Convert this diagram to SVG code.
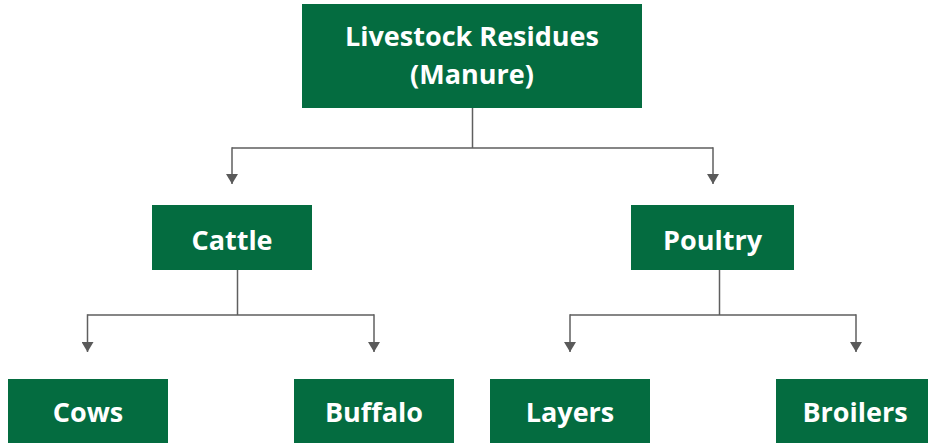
<svg xmlns="http://www.w3.org/2000/svg" width="928" height="443" viewBox="0 0 928 443">
<style>
.box{fill:#046c40}
.t{fill:#ffffff;font-family:"Open Sans","Noto Sans",sans-serif;font-weight:700;font-size:27px;text-anchor:middle}
.c{fill:none;stroke:#5f5f5f;stroke-width:1.5}
</style>
<defs>
<marker id="ah" viewBox="0 0 10 12" refX="10" refY="6" markerWidth="10" markerHeight="12" markerUnits="userSpaceOnUse" orient="auto">
<path d="M0,0 L10,6 L0,12 Z" fill="#5a5a5a"/>
</marker>
</defs>
<rect width="928" height="443" fill="#ffffff"/>
<g id="connectors">
<path class="c" d="M472.5,108 V148 M232,148 H713"/>
<path class="c" d="M232,147.25 V184" marker-end="url(#ah)"/>
<path class="c" d="M713,147.25 V184" marker-end="url(#ah)"/>
<path class="c" d="M237.5,270 V315 M87.5,315 H374"/>
<path class="c" d="M87.5,314.25 V352" marker-end="url(#ah)"/>
<path class="c" d="M374,314.25 V352" marker-end="url(#ah)"/>
<path class="c" d="M719.5,270 V315 M570,315 H856"/>
<path class="c" d="M570,314.25 V352" marker-end="url(#ah)"/>
<path class="c" d="M856,314.25 V352" marker-end="url(#ah)"/>
</g>
<g id="livestock">
<rect class="box" x="302" y="4" width="340" height="104"/>
<text class="t" x="472" y="46">Livestock Residues</text>
<text class="t" x="472" y="84">(Manure)</text>
</g>
<g id="cattle">
<rect class="box" x="152" y="205" width="160" height="65"/>
<text class="t" x="232" y="250">Cattle</text>
</g>
<g id="poultry">
<rect class="box" x="631" y="205" width="163" height="65"/>
<text class="t" x="712.5" y="250">Poultry</text>
</g>
<g id="cows">
<rect class="box" x="8" y="379" width="160" height="64"/>
<text class="t" x="88" y="422">Cows</text>
</g>
<g id="buffalo">
<rect class="box" x="294" y="379" width="160" height="64"/>
<text class="t" x="374" y="422">Buffalo</text>
</g>
<g id="layers">
<rect class="box" x="490" y="379" width="160" height="64"/>
<text class="t" x="570" y="422">Layers</text>
</g>
<g id="broilers">
<rect class="box" x="776" y="379" width="152" height="64"/>
<text class="t" x="855" y="422">Broilers</text>
</g>
</svg>
